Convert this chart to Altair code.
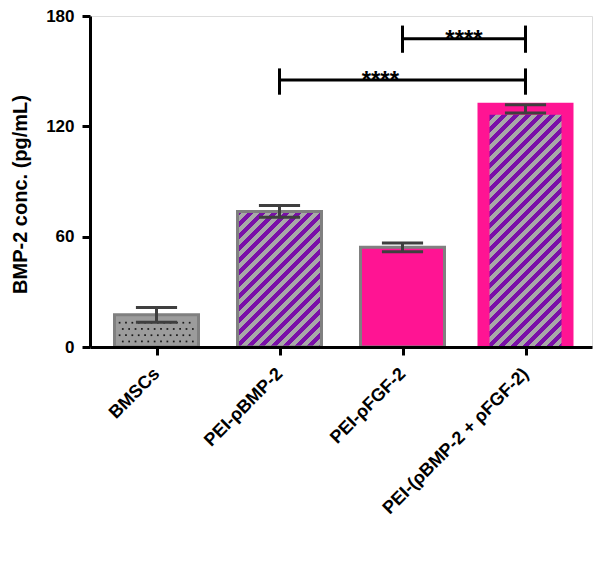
import json
import altair as alt
import pandas as pd

# ---------------- data ----------------
categories = ["BMSCs", "PEI-ρBMP-2", "PEI-ρFGF-2", "PEI-(ρBMP-2 + ρFGF-2)"]
means = [17.5, 73.7, 54.2, 129.5]
errors = [4.0, 3.2, 2.4, 2.2]
y_ticks = [0, 60, 120, 180]

# significance brackets (from category index, to category index)
br_from = [2, 1]
br_to = [3, 3]
br_y = [167.6, 145.2]
br_low = [160.0, 137.2]
br_high = [174.8, 151.5]
star_x = [2.5, 1.82]
star_text = ["****", "****"]

# ---------------- style ----------------
PLOT_W, PLOT_H = 502, 331
Y_MAX = 180
X_DOMAIN = [-0.5, 3.5]
BAR_PX = 84
PX_PER_X = PLOT_W / (X_DOMAIN[1] - X_DOMAIN[0])
PX_PER_Y = PLOT_H / Y_MAX
PINK = "#FF1493"
PURPLE = "#7A10A8"
STRIPE_GRAY = "#A8A8A8"
BORDER_GRAY = "#808080"
ERR_COLOR = "#3f3f3f"
FONT = "Liberation Sans"

idx = list(range(len(categories)))
df = pd.DataFrame({"idx": idx, "cat": categories, "mean": means, "err": errors})
df["lo"] = df["mean"] - df["err"]
df["hi"] = df["mean"] + df["err"]
cap_half = 21 / PX_PER_X
df["cx1"] = df["idx"] - cap_half
df["cx2"] = df["idx"] + cap_half
# thick pink frame of the last bar: outer / inner tops (6 px either side of mean)
df["outer"] = df["mean"] + 6 / PX_PER_Y
df["inner"] = df["mean"] - 6 / PX_PER_Y

label_expr = json.dumps(categories, ensure_ascii=False) + "[datum.value]"
x_scale = alt.Scale(domain=X_DOMAIN, nice=False, zero=False)
y_scale = alt.Scale(domain=[0, Y_MAX], nice=False)
x_axis = alt.Axis(values=idx, labelExpr=label_expr, labelAngle=-45, labelAlign="right",
                  labelBaseline="middle", labelPadding=16, labelFontSize=18,
                  labelFontWeight="bold", labelFont=FONT, labelColor="black",
                  labelFlush=False, labelOverlap=False, labelBound=False, labelLimit=500,
                  tickSize=8, tickWidth=3, tickColor="black", domainWidth=3,
                  domainColor="black", grid=False, zindex=1)
y_axis = alt.Axis(values=y_ticks, tickSize=8, tickWidth=3, tickColor="black",
                  domainWidth=3, domainColor="black", labelFontSize=17,
                  labelFontWeight="bold", labelFont=FONT, labelColor="black",
                  labelPadding=8, grid=False, titleFontSize=20, titleFont=FONT,
                  titleFontWeight="bold", titleColor="black", titlePadding=15,
                  titleY=178, titleLimit=500, zindex=1)
Y_TITLE = "BMP-2 conc. (pg/mL)"


def X(field):
    return alt.X(f"{field}:Q", scale=x_scale, axis=x_axis, title=None)


def Y(field):
    return alt.Y(f"{field}:Q", scale=y_scale, axis=y_axis, title=Y_TITLE)


def stripes(value, w):
    h = value * PX_PER_Y
    r = h / w
    tu = 1.0 / (w * (1 + r * r))
    half = 6.0
    stops = []
    k = 0
    s = 0.0
    while s < w + h + 2 * half:
        c = PURPLE if k % 2 == 0 else STRIPE_GRAY
        stops.append(alt.GradientStop(offset=min(s * tu, 1.0), color=c))
        stops.append(alt.GradientStop(offset=min((s + half) * tu, 1.0), color=c))
        s += half
        k += 1
    return alt.LinearGradient(gradient="linear", stops=stops, x1=0, y1=0, x2=1, y2=r)


layers = []
# bar 1: gray with border
layers.append(alt.Chart(df[df["idx"] == 0]).mark_bar(
    size=BAR_PX, clip=True, fill="#9c9c9c", stroke=BORDER_GRAY, strokeWidth=3)
    .encode(x=X("idx"), y=Y("mean")))
# bar 2: hatched with border
layers.append(alt.Chart(df[df["idx"] == 1]).mark_bar(
    size=BAR_PX, clip=True, fill=stripes(means[1], BAR_PX), stroke=BORDER_GRAY, strokeWidth=3)
    .encode(x=X("idx"), y=Y("mean")))
# bar 3: pink with border
layers.append(alt.Chart(df[df["idx"] == 2]).mark_bar(
    size=BAR_PX, clip=True, fill=PINK, stroke=BORDER_GRAY, strokeWidth=3)
    .encode(x=X("idx"), y=Y("mean")))
# bar 4: thick pink frame + hatched interior
layers.append(alt.Chart(df[df["idx"] == 3]).mark_bar(
    size=BAR_PX + 12, clip=True, fill=PINK, strokeWidth=0)
    .encode(x=X("idx"), y=Y("outer")))
layers.append(alt.Chart(df[df["idx"] == 3]).mark_bar(
    size=BAR_PX - 12, clip=True, fill=stripes(means[3] - 6 / PX_PER_Y, BAR_PX - 12), strokeWidth=0)
    .encode(x=X("idx"), y=Y("inner")))

# dotted texture for BMSCs bar
dots = []
row_gap = 3.4
col_gap = 6.5 / PX_PER_X
top = means[0] - 4.3
r = 0
while top - r * row_gap > 1.5:
    yv = top - r * row_gap
    off = 0 if r % 2 == 0 else col_gap / 2
    c = -0.30 + off
    while c <= 0.30:
        dots.append({"dx": 0 + c, "dy": yv})
        c += col_gap
    r += 1
dots_df = pd.DataFrame(dots)
layers.append(
    alt.Chart(dots_df).mark_square(size=3, color="#1a1a1a", opacity=1)
    .encode(x=X("dx"), y=Y("dy"))
)

# error bars
layers.append(alt.Chart(df).mark_rule(color=ERR_COLOR, strokeWidth=3)
              .encode(x=X("idx"), y=Y("lo"), y2="hi"))
layers.append(alt.Chart(df).mark_rule(color=ERR_COLOR, strokeWidth=3)
              .encode(x=X("cx1"), x2="cx2", y=Y("hi")))
layers.append(alt.Chart(df).mark_rule(color=ERR_COLOR, strokeWidth=3)
              .encode(x=X("cx1"), x2="cx2", y=Y("lo")))

# significance brackets
bdf = pd.DataFrame({"x1": br_from, "x2": br_to, "y": br_y, "lo": br_low, "hi": br_high,
                    "sx": star_x, "txt": star_text})
layers.append(alt.Chart(bdf).mark_rule(color="black", strokeWidth=3)
              .encode(x=X("x1"), x2="x2", y=Y("y")))
layers.append(alt.Chart(bdf).mark_rule(color="black", strokeWidth=3)
              .encode(x=X("x1"), y=Y("lo"), y2="hi"))
layers.append(alt.Chart(bdf).mark_rule(color="black", strokeWidth=3)
              .encode(x=X("x2"), y=Y("lo"), y2="hi"))
layers.append(alt.Chart(bdf).mark_text(font=FONT, fontSize=24, fontWeight="bold",
                                       baseline="alphabetic", dy=8, color="black")
              .encode(x=X("sx"), y=Y("y"), text="txt:N"))

chart = alt.layer(*layers).properties(
    width=PLOT_W, height=PLOT_H,
    autosize=alt.AutoSizeParams(type="none"),
    padding={"left": 82, "top": 8, "right": 1, "bottom": 227},
).configure_view(stroke="black", strokeWidth=3).configure(background="white")

chart.save("out.html", embed_options={"renderer": "svg", "actions": False})
